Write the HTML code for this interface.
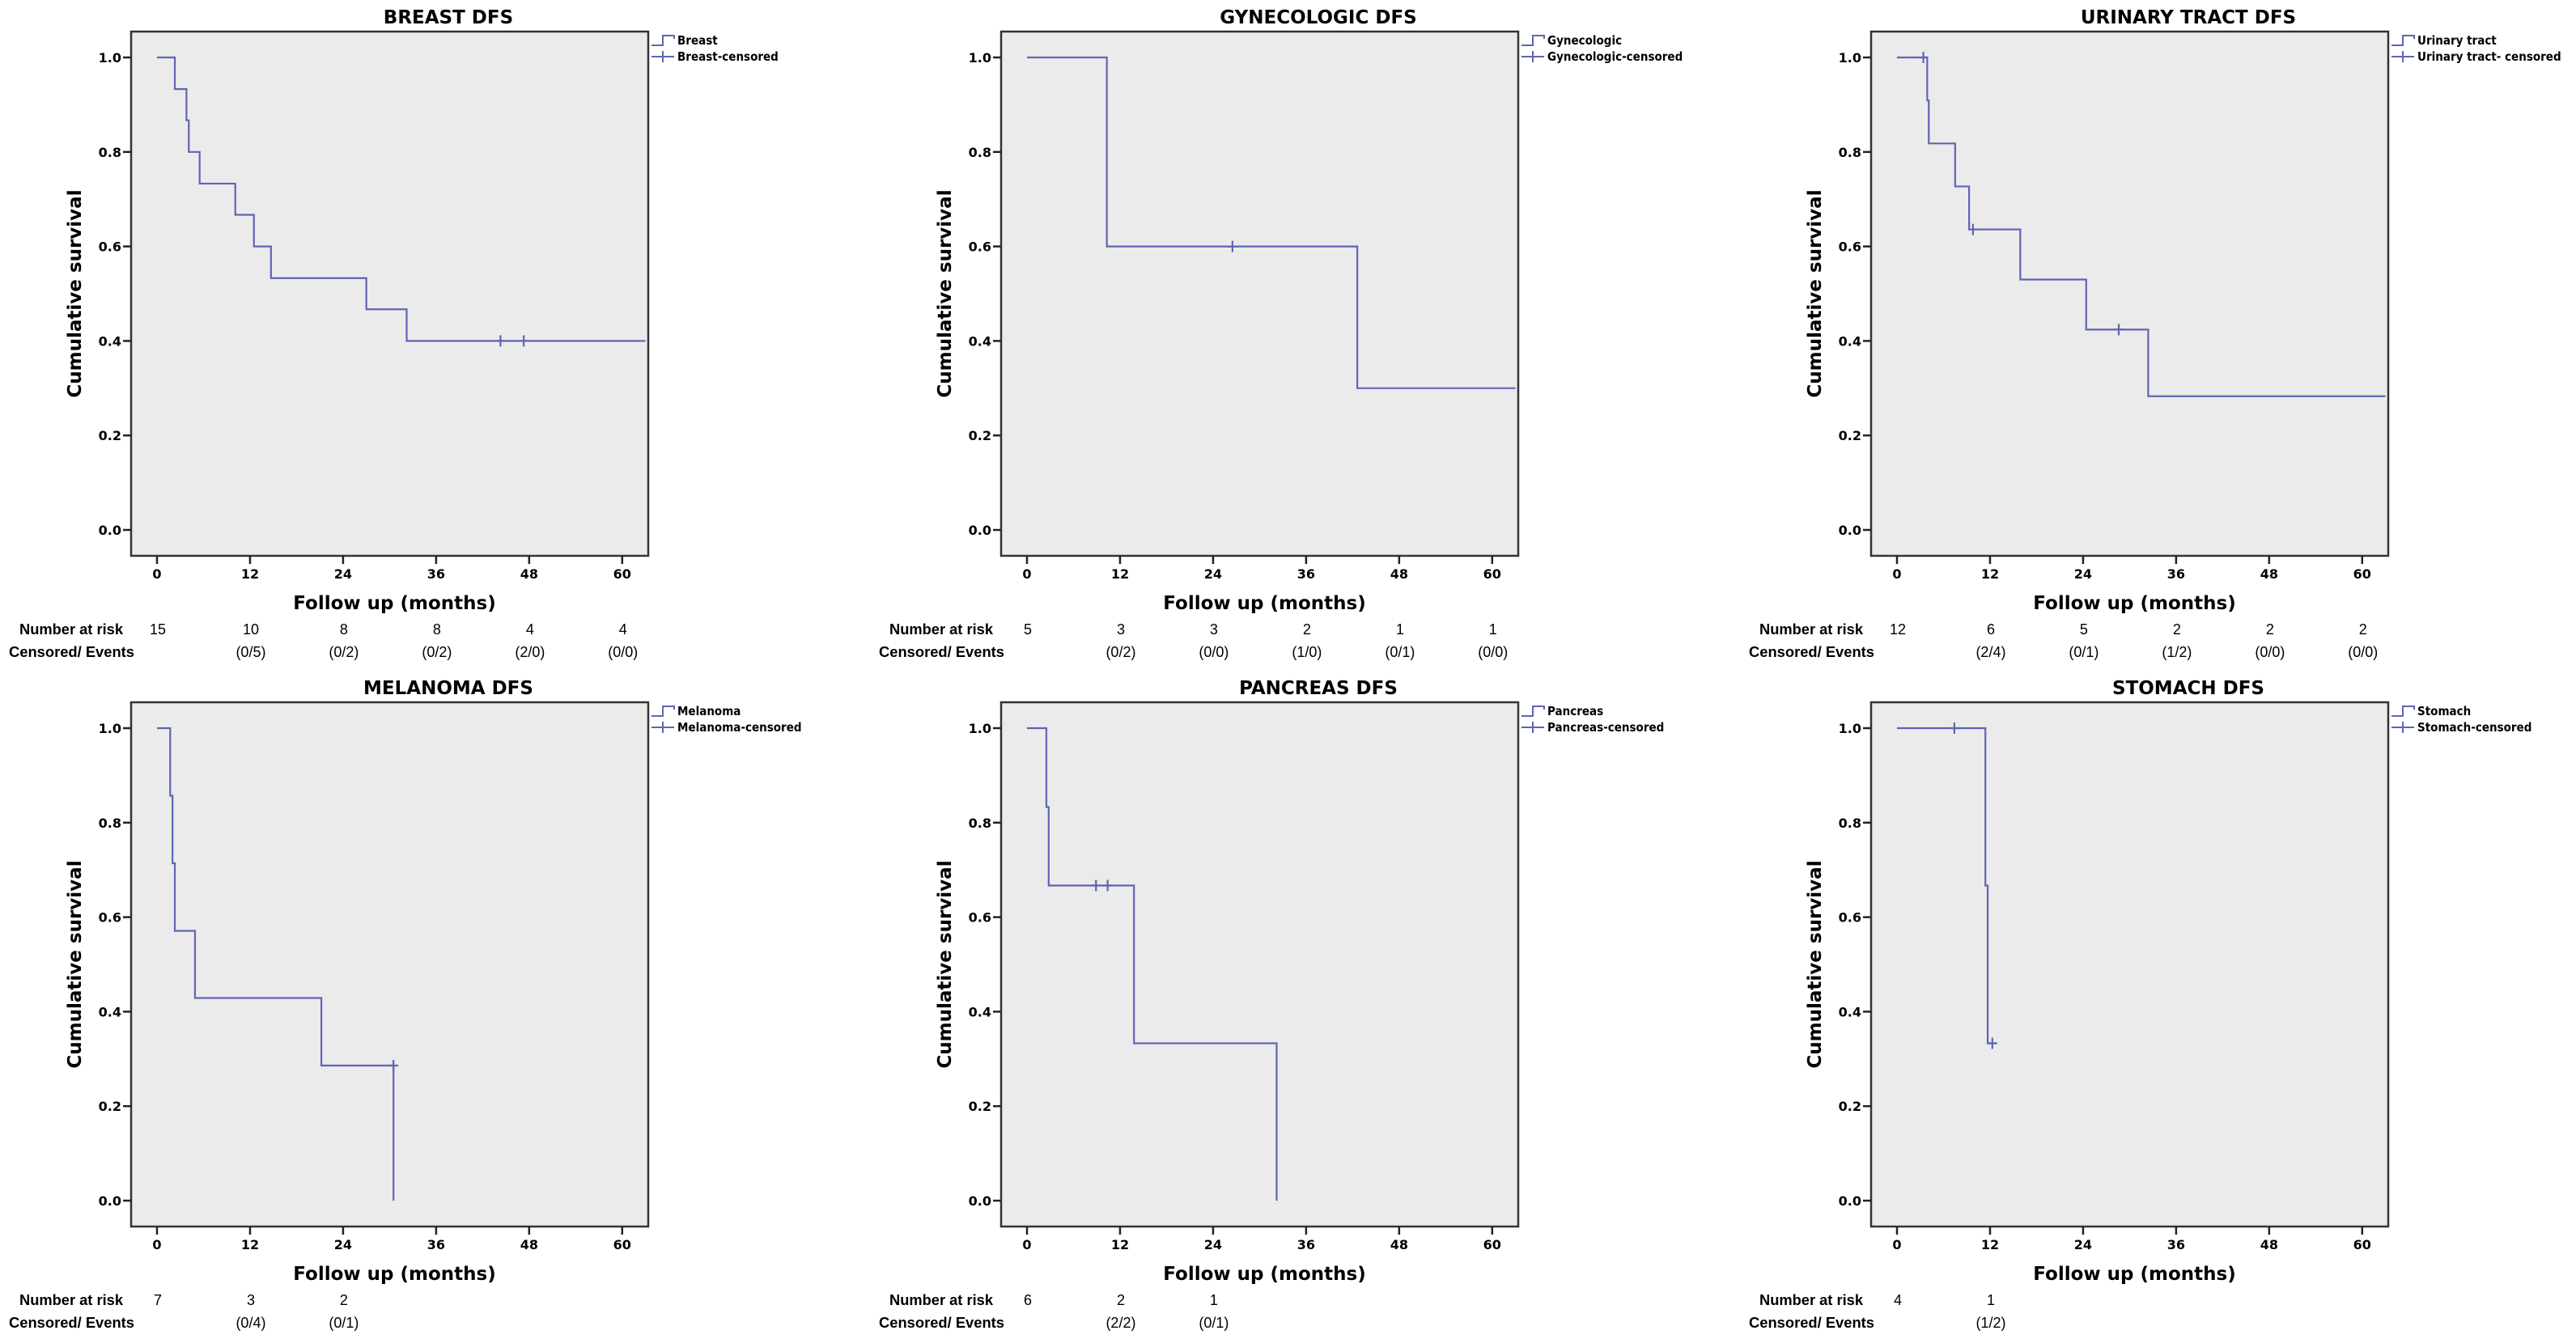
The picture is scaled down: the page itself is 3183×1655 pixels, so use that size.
<!DOCTYPE html>
<html><head><meta charset="utf-8">
<style>
html,body{margin:0;padding:0;background:#fff;}
svg{display:block;}
</style></head>
<body>
<svg id="s" xmlns="http://www.w3.org/2000/svg" width="3183" height="1655" viewBox="0 0 3183 1655"></svg>
<script>
const S=document.getElementById('s');
let out='';
const C='#5f65b3';
const panels=[
 {t:'BREAST DFS',c:0,r:0,leg:['Breast','Breast-censored'],
  steps:[[0,1],[2.3,0.933],[3.8,0.867],[4.1,0.8],[5.5,0.733],[10.1,0.667],[12.5,0.6],[14.7,0.533],[27,0.467],[32.2,0.4]],end:63,cens:[[44.3,0.4],[47.3,0.4]],
  nar:['15','10','8','8','4','4'],ce:['','(0/5)','(0/2)','(0/2)','(2/0)','(0/0)']},
 {t:'GYNECOLOGIC DFS',c:1,r:0,leg:['Gynecologic','Gynecologic-censored'],
  steps:[[0,1],[10.3,0.6],[42.6,0.3]],end:63,cens:[[26.5,0.6]],
  nar:['5','3','3','2','1','1'],ce:['','(0/2)','(0/0)','(1/0)','(0/1)','(0/0)']},
 {t:'URINARY TRACT DFS',c:2,r:0,leg:['Urinary tract','Urinary tract- censored'],
  steps:[[0,1],[3.9,0.909],[4.1,0.818],[7.5,0.727],[9.3,0.636],[15.9,0.53],[24.4,0.424],[32.4,0.283]],end:63,cens:[[3.4,1],[9.8,0.636],[28.6,0.424]],
  nar:['12','6','5','2','2','2'],ce:['','(2/4)','(0/1)','(1/2)','(0/0)','(0/0)']},
 {t:'MELANOMA DFS',c:0,r:1,leg:['Melanoma','Melanoma-censored'],
  steps:[[0,1],[1.7,0.857],[2.0,0.714],[2.3,0.571],[4.9,0.429],[21.2,0.286],[30.5,0]],end:30.5,cens:[[30.5,0.286]],
  nar:['7','3','2'],ce:['','(0/4)','(0/1)']},
 {t:'PANCREAS DFS',c:1,r:1,leg:['Pancreas','Pancreas-censored'],
  steps:[[0,1],[2.5,0.833],[2.8,0.667],[13.8,0.333],[32.2,0]],end:32.2,cens:[[8.9,0.667],[10.4,0.667]],
  nar:['6','2','1'],ce:['','(2/2)','(0/1)']},
 {t:'STOMACH DFS',c:2,r:1,leg:['Stomach','Stomach-censored'],
  steps:[[0,1],[11.4,0.667],[11.7,0.333]],end:12.3,cens:[[7.4,1],[12.3,0.333]],
  nar:['4','1'],ce:['','(1/2)']}
];
for(const p of panels){
 const ox=p.c*1075, top=p.r?868:39, bot=top+648, L=162+ox, R=801+ox;
 const X=m=>194+ox+m*9.58, Y=v=>top+32+(1-v)*584;
 const rowY=p.r?1606:777;
 out+=`<rect x="${L}" y="${top}" width="${R-L}" height="${bot-top}" fill="#ebebeb" stroke="#333" stroke-width="2.5"/>`;
 out+=`<text x="${L+392}" y="${top-10}" text-anchor="middle" font-family="DejaVu Sans" font-weight="bold" font-size="23">${p.t}</text>`;
 for(let i=0;i<=5;i++){const y=Y(i*0.2);
  out+=`<line x1="${L-10}" y1="${y}" x2="${L}" y2="${y}" stroke="#222" stroke-width="2.5"/>`;
  out+=`<text x="${L-12}" y="${y+6}" text-anchor="end" font-family="DejaVu Sans" font-weight="bold" font-size="16">${(i*0.2).toFixed(1)}</text>`;}
 for(let i=0;i<=5;i++){const x=X(i*12);
  out+=`<line x1="${x}" y1="${bot}" x2="${x}" y2="${bot+10}" stroke="#222" stroke-width="2.5"/>`;
  out+=`<text x="${x}" y="${bot+28}" text-anchor="middle" font-family="DejaVu Sans" font-weight="bold" font-size="16">${i*12}</text>`;}
 out+=`<text transform="translate(${L-62},${(top+bot)/2}) rotate(-90)" text-anchor="middle" font-family="DejaVu Sans" font-weight="bold" font-size="23">Cumulative survival</text>`;
 out+=`<text x="${(L+R)/2+6}" y="${bot+66}" text-anchor="middle" font-family="DejaVu Sans" font-weight="bold" font-size="23">Follow up (months)</text>`;
 let d=`M${X(0)},${Y(1)}`;
 for(let i=1;i<p.steps.length;i++){const [m,v]=p.steps[i];d+=` L${X(m)},${Y(p.steps[i-1][1])} L${X(m)},${Y(v)}`;}
 const last=p.steps[p.steps.length-1];
 const endx=Math.min(X(p.end),R-2);
 if(endx>X(last[0])) d+=` L${endx},${Y(last[1])}`;
 out+=`<path d="${d}" fill="none" stroke="${C}" stroke-width="2.2"/>`;
 for(const [m,v] of p.cens){out+=`<path d="M${X(m)},${Y(v)-7}V${Y(v)+7}M${X(m)-6},${Y(v)}H${X(m)+6}" stroke="${C}" stroke-width="2.2"/>`;}
 const lx=R+4, ly=top+11;
 out+=`<path d="M${lx},${ly+6}H${lx+14}V${ly-6}H${lx+28}V${ly-2}" fill="none" stroke="${C}" stroke-width="2"/>`;
 out+=`<path d="M${lx},${ly+20}H${lx+28}M${lx+14},${ly+13}V${ly+27}" stroke="${C}" stroke-width="2"/>`;
 out+=`<text x="${R+36}" y="${ly+5}" font-family="DejaVu Sans Condensed, DejaVu Sans" font-weight="bold" font-size="15">${p.leg[0]}</text>`;
 out+=`<text x="${R+36}" y="${ly+25}" font-family="DejaVu Sans Condensed, DejaVu Sans" font-weight="bold" font-size="15">${p.leg[1]}</text>`;
 out+=`<text x="${24+ox}" y="${rowY+7}" textLength="128" lengthAdjust="spacingAndGlyphs" font-family="Liberation Sans" font-weight="bold" font-size="18">Number at risk</text>`;
 out+=`<text x="${11+ox}" y="${rowY+35}" textLength="155" lengthAdjust="spacingAndGlyphs" font-family="Liberation Sans" font-weight="bold" font-size="18">Censored/ Events</text>`;
 p.nar.forEach((v,i)=>{out+=`<text x="${X(i*12)+1}" y="${rowY+7}" text-anchor="middle" font-family="Liberation Sans" font-size="18">${v}</text>`;});
 p.ce.forEach((v,i)=>{if(v)out+=`<text x="${X(i*12)+1}" y="${rowY+35}" text-anchor="middle" font-family="Liberation Sans" font-size="18">${v}</text>`;});
}
S.innerHTML=out;
</script>
</body></html>
